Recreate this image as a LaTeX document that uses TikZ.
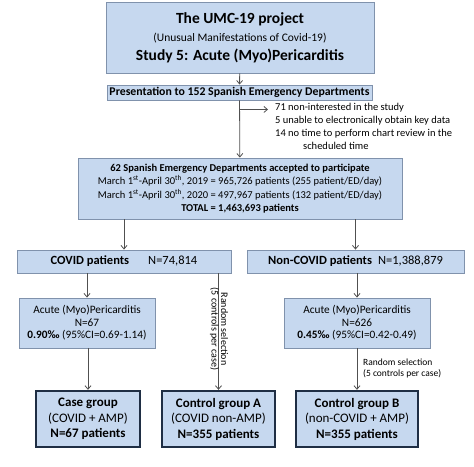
\documentclass[tikz,border=0pt]{standalone}
\usepackage{fontspec}
\setmainfont{Carlito}
\usetikzlibrary{arrows.meta, positioning, calc}
\definecolor{boxblue}{RGB}{198,216,239}
\definecolor{boxedge}{RGB}{128,146,172}
\definecolor{groupedge}{RGB}{31,46,68}
\definecolor{arrowgrey}{RGB}{80,80,80}

\begin{document}
\begin{tikzpicture}[
    x=1pt, y=-1pt,
    font=\fontsize{10.5}{13.5}\selectfont,
    box/.style={draw=boxedge, fill=boxblue, line width=0.9pt, align=center, inner sep=0pt},
    groupbox/.style={box, draw=groupedge, line width=2.4pt, font=\fontsize{13}{15.5}\selectfont},
    note/.style={align=left, inner sep=0pt, font=\fontsize{10.5}{13}\selectfont},
    arrow/.style={-{Straight Barb[length=3.5pt,width=6pt]}, arrowgrey, line width=0.8pt},
]
\useasboundingbox (0,0) rectangle (474,466);

% Study header
\node[box, minimum width=268, minimum height=71, font=\fontsize{15.5}{16}\selectfont] (umc) at (240,37.5)
    {\textbf{The UMC-19 project}\\[2pt]
     {\fontsize{11.5}{16}\selectfont (Unusual Manifestations of Covid-19)}\\[3pt]
     \textbf{Study 5: Acute (Myo)Pericarditis}};
\node[box, minimum width=265, minimum height=15, font=\fontsize{11.8}{12}\selectfont\bfseries] (pres) at (239.5,92.5)
    {Presentation to 152 Spanish Emergency Departments};
\draw[arrow] (umc) -- (pres);

% Departments lost
\node[note, anchor=north west, inner xsep=7pt] (excl) at (268,103)
    {71 non-interested in the study\\
     5 unable to electronically obtain key data\\
     14 no time to perform chart review in the\\
     \hspace{28pt}scheduled time};

% Participating departments
\node[box, minimum width=324, minimum height=61] (accepted) at (240,188.5)
    {\textbf{62 Spanish Emergency Departments accepted to participate}\\
     March 1\textsuperscript{st}-April 30\textsuperscript{th}, 2019 = 965,726 patients (255 patient/ED/day)\\
     March 1\textsuperscript{st}-April 30\textsuperscript{th}, 2020 = 497,967 patients (132 patient/ED/day)\\
     \textbf{TOTAL = 1,463,693 patients}};
\draw[arrow] (pres) -- (accepted);
\coordinate (br) at ($(pres.south)+(0,9)$);
\draw[arrow] (br) -- (br -| excl.west);

% COVID split
\node[box, minimum width=214, minimum height=23, font=\fontsize{12.5}{13}\selectfont] (covid) at (124,261.5)
    {\textbf{COVID patients}\hspace{19pt}N=74,814};
\node[box, minimum width=217, minimum height=23, font=\fontsize{12.5}{13}\selectfont] (noncovid) at (355.5,261.5)
    {\textbf{Non-COVID patients}\hspace{6pt}N=1,388,879};
\draw[arrow] (accepted.south -| covid.north) -- (covid.north);
\draw[arrow] (accepted.south -| noncovid.north) -- (noncovid.north);

% Acute (Myo)Pericarditis
\node[box, minimum width=136, minimum height=50, font=\fontsize{11.3}{12.5}\selectfont] (amp1) at (87,323)
    {Acute (Myo)Pericarditis\\N=67\\\textbf{0.90‰} (95\%CI=0.69-1.14)};
\node[box, minimum width=146, minimum height=50, font=\fontsize{11.3}{12.5}\selectfont] (amp2) at (357,323)
    {Acute (Myo)Pericarditis\\N=626\\\textbf{0.45‰} (95\%CI=0.42-0.49)};
\draw[arrow] (covid.south -| amp1.north) -- (amp1.north);
\draw[arrow] (noncovid.south -| amp2.north) -- (amp2.north);

% Final groups
\node[groupbox, minimum width=104, minimum height=56] (casegrp) at (88,419)
    {\textbf{Case group}\\(COVID + AMP)\\\textbf{N=67 patients}};
\node[groupbox, minimum width=113, minimum height=56] (ctrlA) at (218.5,419)
    {\textbf{Control group A}\\(COVID non-AMP)\\\textbf{N=355 patients}};
\node[groupbox, minimum width=122, minimum height=56] (ctrlB) at (357,419)
    {\textbf{Control group B}\\(non-COVID + AMP)\\\textbf{N=355 patients}};
\draw[arrow] (amp1.south -| casegrp.north) -- (casegrp.north);
\draw[arrow] (covid.south -| ctrlA.north) -- (ctrlA.north);
\draw[arrow] (amp2.south -| ctrlB.north) -- (ctrlB.north);

% Selection labels
\node[note, align=center, rotate=-90, font=\fontsize{10}{9.5}\selectfont] (selA) at (219,329)
    {Random selection\\(5 controls per case)};
\node[note, anchor=west, font=\fontsize{9.5}{11}\selectfont] (selB) at (363,368.5)
    {Random selection\\(5 controls per case)};
\end{tikzpicture}
\end{document}
